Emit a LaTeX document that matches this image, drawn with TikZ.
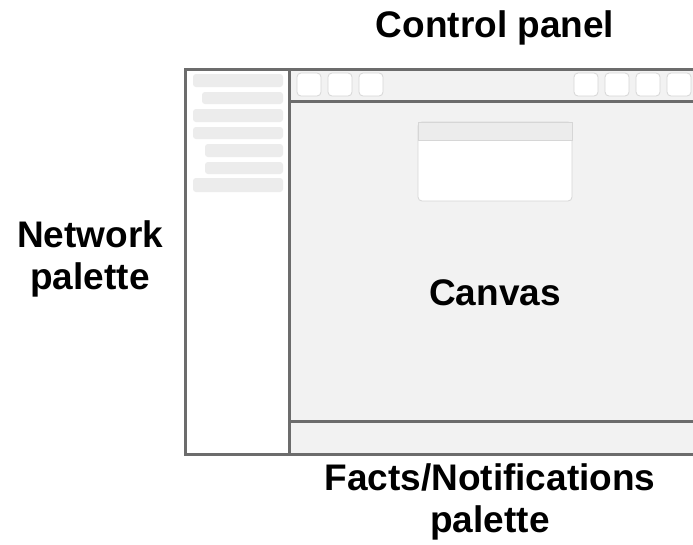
\documentclass[tikz,border=0pt]{standalone}
\usepackage{fontspec}
\setmainfont{Liberation Sans}
\usetikzlibrary{positioning}
\definecolor{uiFrame}  {RGB}{108, 108, 108}
\definecolor{uiCanvas} {RGB}{242, 242, 242}
\definecolor{uiItem}   {RGB}{236, 236, 236}
\definecolor{uiBorder} {RGB}{214, 214, 214}

\begin{document}
\begin{tikzpicture}[x=1pt,y=-1pt,
    paneltext/.style={font=\fontsize{37}{42}\selectfont\bfseries,align=center,inner sep=0pt},
    paletteitem/.style={fill=uiItem,rounded corners=3pt},
    toolbutton/.style={draw=uiBorder,fill=white,rounded corners=4pt,line width=0.8pt},
    frameline/.style={draw=uiFrame,line width=3pt}]

    \useasboundingbox (0,0) rectangle (693,544);

    % areas
    \fill[uiCanvas] (289,69) rectangle (700,454);
    \fill[white] (185,69) rectangle (289,454);

    % network palette entries
    \foreach \xa/\ya/\yb in {193/74/87, 202/92/104, 193/109/122, 193/127/139,
                             205/144/157, 205/162/174, 193/178/192}{
      \fill[paletteitem] (\xa,\ya) rectangle (283,\yb);
    }

    % control panel buttons
    \foreach \xa in {297,328,359,574,605,636,667}{
      \draw[toolbutton] (\xa,73) rectangle ++(24,23);
    }

    % small window on the canvas
    \draw[draw=uiBorder,fill=white,line width=0.8pt,rounded corners=4pt]
      (418,122) -- (418,201) -- (572,201) -- (572,122) -- cycle;
    \draw[draw=uiBorder,fill=uiItem,line width=0.8pt] (418,122) rectangle (572,140);

    % frame
    \draw[frameline] (700,69) -- (185,69) -- (185,454) -- (700,454);
    \draw[frameline] (289,69) -- (289,454);
    \draw[frameline] (289,101.5) -- (700,101.5);
    \draw[frameline] (289,421) -- (700,421);

    % labels
    \node[paneltext,anchor=base] (control) at (495,37) {Control panel};
    \node[paneltext] (network) at (90,259) {Network\\palette};
    \node[paneltext,anchor=base] (canvas) at (495,305) {Canvas};
    \node[paneltext] (facts) at (490,502) {Facts/Notifications\\palette};

  \end{tikzpicture}
\end{document}
